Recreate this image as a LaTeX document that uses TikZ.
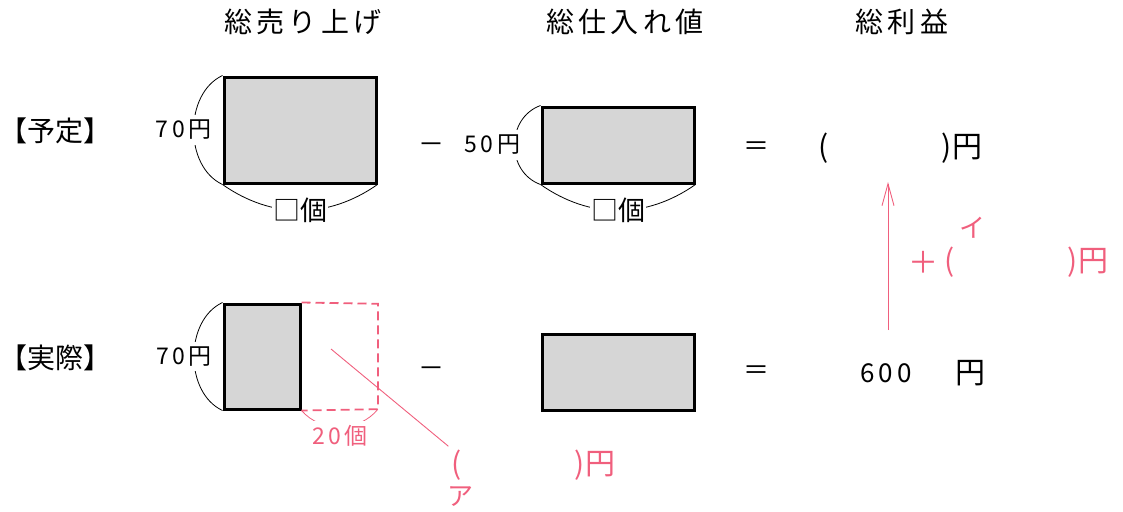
\documentclass[tikz,border=0pt]{standalone}
\usepackage{fontspec}
\newfontfamily\jp{Noto Sans CJK JP}
\newfontfamily\jpw[LetterSpace=15]{Noto Sans CJK JP}
\usetikzlibrary{arrows.meta}
\definecolor{memo}{RGB}{240,95,125}
\definecolor{boxgray}{RGB}{214,214,214}

\begin{document}
\begin{tikzpicture}[x=1pt, y=-1pt,
    amount/.style={
        rectangle,
        draw,
        line width=3pt,
        fill=boxgray,
        inner sep=0pt
    },
    heading/.style={font=\jpw\fontsize{28}{28}\selectfont},
    rowname/.style={font=\jp\fontsize{28}{28}\selectfont},
    sym/.style={font=\jp\fontsize{26}{26}\selectfont},
    paren/.style={font=\jp\fontsize{30}{30}\selectfont},
    lbl/.style={
        font=\jpw\fontsize{23}{23}\selectfont,
        fill=white,
        inner xsep=1pt,
        inner ysep=5pt
    },
    memo text/.style={font=\jp\fontsize{26}{26}\selectfont, text=memo},
    span/.style={line width=0.8pt}
]
\useasboundingbox (0,0) rectangle (1123,511);

% Headings
\node [heading] (h-sales) at (303,22) {総売り上げ};
\node [heading] (h-cost) at (625,22) {総仕入れ値};
\node [heading] (h-profit) at (902,22) {総利益};

% Row names
\node [rowname] (plan) at (55,131) {【予定】};
\node [rowname] (real) at (55,358) {【実際】};

% Plan row
\node [amount, minimum width=152pt, minimum height=106pt] (plan-sales) at (300,130) {};
\node [amount, minimum width=152pt, minimum height=76pt] (plan-cost) at (618,145) {};

\draw [span] (plan-sales.north west) to[bend right=65] node[lbl, xshift=-10pt] (plan-price) {70円} (plan-sales.south west);
\draw [span] (plan-sales.south west) to[bend right=35] node[lbl, font=\jp\fontsize{27}{27}\selectfont] (plan-num) {□個} (plan-sales.south east);
\draw [span] (plan-cost.north west) to[bend right=70, looseness=1.2] node[lbl, xshift=-22pt] (cost-price) {50円} (plan-cost.south west);
\draw [span] (plan-cost.south west) to[bend right=35] node[lbl, font=\jp\fontsize{27}{27}\selectfont] (cost-num) {□個} (plan-cost.south east);

\node [sym] (plan-minus) at (431,148) {－};
\node [sym] (plan-eq) at (756,149) {＝};
\node [paren] (plan-open) at (824,148) {(};
\node [paren] (plan-close) at (962,148) {)円};

% Real row
\node [amount, minimum width=76pt, minimum height=105pt] (real-sales) at (262,356.5) {};
\node [inner sep=0pt, minimum width=76pt, minimum height=105pt, anchor=west] (real-extra) at (real-sales.east) {};
\node [amount, minimum width=152pt, minimum height=76pt] (real-cost) at (618,372) {};

\draw [span] (real-sales.north west) to[bend right=65] node[lbl, xshift=-10pt] (real-price) {70円} (real-sales.south west);
\draw [memo, line width=1.8pt, dash pattern=on 9pt off 5pt] (real-sales.north east) -- (real-extra.north east) -- (real-extra.south east) -- (real-sales.south east);
\draw [memo, span] (real-sales.south east) to[bend right=50] node[lbl, text=memo, yshift=-9pt] (extra-num) {20個} (real-extra.south east);

\node [sym] (real-minus) at (431,372) {－};
\node [sym] (real-eq) at (756,373) {＝};
\node [sym, font=\jpw\fontsize{26}{26}\selectfont] (real-profit) at (886,373) {600};
\node [paren] (real-yen) at (970,373) {円};

% Memo (a)
\coordinate (extra-pt) at (331,349);
\node [memo text, paren] (a-open) at (457,465) {(};
\node [memo text, paren] (a-close) at (595,465) {)円};
\node [memo text] (a-mark) at (460,497) {ア};
\draw [memo, line width=0.9pt] (extra-pt) -- (a-open.north west);

% Memo (i)
\coordinate (up-start) at (888,330);
\coordinate (up-end) at (888,182);
\draw [memo, line width=0.9pt, -{Straight Barb[length=22pt, width=12pt]}] (up-start) -- (up-end);
\node [memo text, font=\jp\fontsize{30}{30}\selectfont] (i-plus) at (923,262) {＋};
\node [memo text, paren] (i-open) at (950,262) {(};
\node [memo text] (i-mark) at (972,228) {イ};
\node [memo text, paren] (i-close) at (1088,262) {)円};

\end{tikzpicture}
\end{document}
